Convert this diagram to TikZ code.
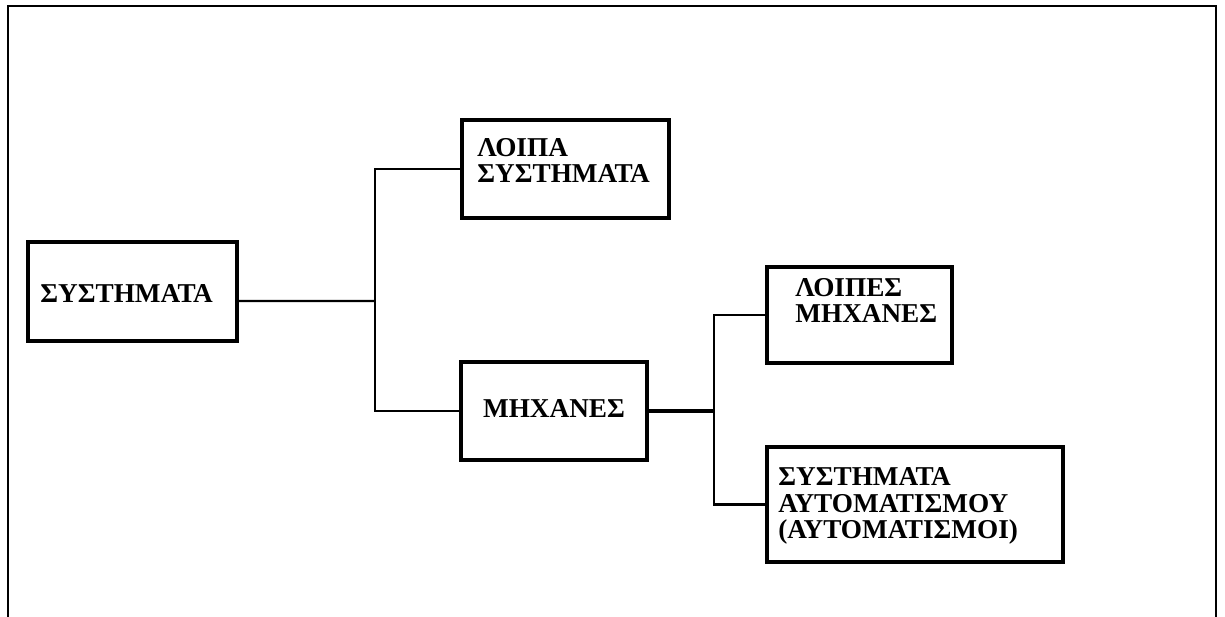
\documentclass[tikz,border=0pt]{standalone}
\usepackage{fontspec}
\setmainfont{Liberation Serif}
\usetikzlibrary{positioning}
\tikzset{
	box/.style={draw, line width=1.8pt, inner sep=0pt},
	txt/.style={font=\fontsize{15.5}{15.3}\selectfont\bfseries, align=left, inner sep=0pt, anchor=base west},
	link/.style={line width=1.4pt}
}

\begin{document}
\begin{tikzpicture}[x=0.02cm,y=-0.02cm]
	\useasboundingbox (0,0) rectangle (1225,617);
	% frame
	\draw[line width=1.2pt] (8,617) -- (8,6) -- (1216,6) -- (1216,617);
	% boxes
	\node[box, minimum width=4.18cm, minimum height=1.98cm] (sys) at (132.5,291.5) {};
	\node[box, minimum width=4.14cm, minimum height=1.96cm] (loipa) at (565.5,169) {};
	\node[box, minimum width=3.72cm, minimum height=1.96cm] (mhx) at (554,411) {};
	\node[box, minimum width=3.70cm, minimum height=1.92cm] (loipes) at (859.5,315) {};
	\node[box, minimum width=5.92cm, minimum height=2.30cm] (autom) at (915,504.5) {};
	% texts (base = last line)
	\node[txt] (sysT) at (40,303) {ΣΥΣΤΗΜΑΤΑ};
	\node[txt] (loipaT) at (477,183) {ΛΟΙΠΑ\\ΣΥΣΤΗΜΑΤΑ};
	\node[txt, anchor=base] (mhxT) at (554,418) {ΜΗΧΑΝΕΣ};
	\node[txt] (loipesT) at (795,323) {ΛΟΙΠΕΣ\\ΜΗΧΑΝΕΣ};
	\node[txt] (automT) at (778,539) {ΣΥΣΤΗΜΑΤΑ\\ΑΥΤΟΜΑΤΙΣΜΟΥ\\(ΑΥΤΟΜΑΤΙΣΜΟΙ)};
	% connectors
	\coordinate (j1) at (375,301);
	\coordinate (j2) at (714,411);
	\draw[link] ([yshift=-0.19cm]sys.east) -- (j1);
	\draw[link] (loipa.west) -| (j1) |- (mhx.west);
	\draw[link, line width=1.9pt] (mhx.east) -- (j2);
	\draw[link] (loipes.west) -| (j2) |- (autom.west);
\end{tikzpicture}
\end{document}
